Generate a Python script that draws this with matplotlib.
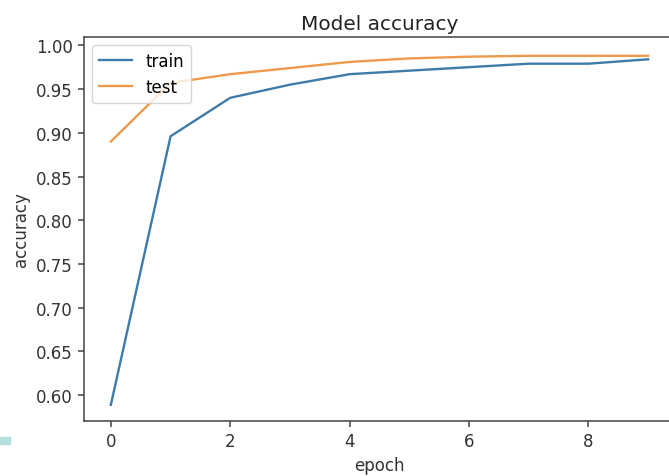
import matplotlib
matplotlib.use("Agg")
import matplotlib.pyplot as plt
from matplotlib.patches import Rectangle

epochs = list(range(10))
train_acc = [0.589, 0.896, 0.940, 0.955, 0.967, 0.971, 0.975, 0.979, 0.979, 0.984]
test_acc = [0.890, 0.957, 0.967, 0.974, 0.981, 0.985, 0.987, 0.988, 0.988, 0.988]


def draw():
    fig = plt.figure(figsize=(6.69, 4.77), dpi=100)
    # right spine sits just outside the cropped picture
    ax = fig.add_axes([84 / 669, 55 / 477, 591 / 669, 384 / 477])
    ax.plot(epochs, train_acc, lw=1.7, color="#3f7ba8", label="train")
    ax.plot(epochs, test_acc, lw=1.7, color="#ee9a4c", label="test")
    ax.set_title("Model accuracy", fontsize=14.4, color="#222222")
    ax.set_xlabel("epoch", fontsize=12, color="#333333")
    ax.set_ylabel("accuracy", fontsize=12, color="#333333")
    ax.tick_params(labelsize=12, length=4.5, width=1.1,
                   color="#444444", labelcolor="#333333")
    ax.set_ylim(0.5705, 1.0095)
    ax.set_xlim(-0.45, 9.45)
    ax.set_yticks([0.60, 0.65, 0.70, 0.75, 0.80, 0.85, 0.90, 0.95, 1.00])
    for s in ax.spines.values():
        s.set_linewidth(1.1)
        s.set_color("#444444")
    ax.legend(loc="upper left", fontsize=12)

    # small cyan mark at the lower left of the screenshot
    fig.patches.append(Rectangle((0, 32 / 477), 10 / 669, 7 / 477,
                                 transform=fig.transFigure, color="#b5dede"))
    fig.savefig("out.png", dpi=100)


if __name__ == "__main__":
    draw()
